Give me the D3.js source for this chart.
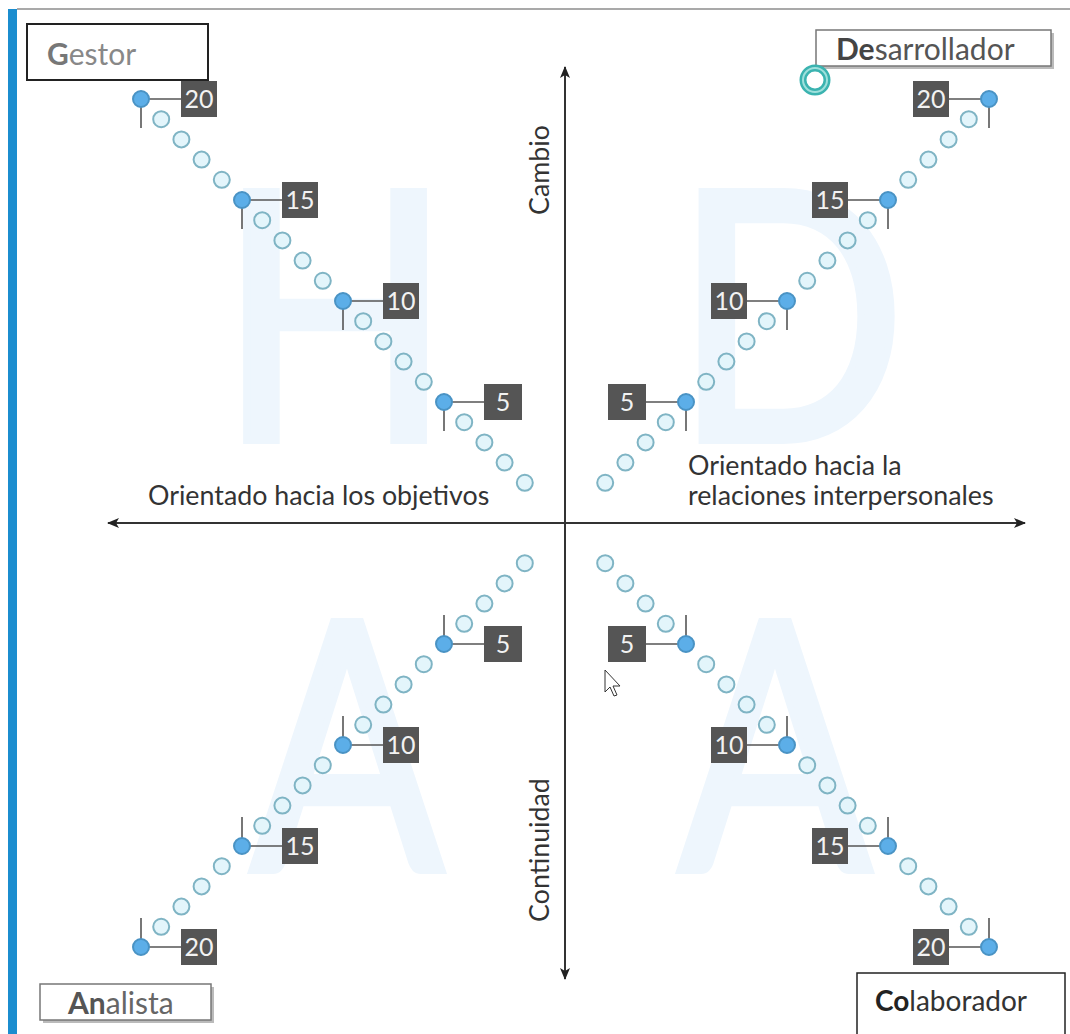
<!DOCTYPE html>
<html>
<head>
<meta charset="utf-8">
<script src="https://cdn.jsdelivr.net/npm/d3@7"></script>
<style>
  body { margin: 0; background: #fff; }
  svg { display: block; font-family: "Lato", "Open Sans", sans-serif; }
</style>
</head>
<body>
<div id="chart"></div>
<script>
// --- data ---
const quadrants = ["Gestor", "Desarrollador", "Analista", "Colaborador"];
const quadrantBold = ["G", "De", "An", "Co"];
const quadrantLetters = ["H", "D", "A", "A"];
const dotValues = [1, 2, 3, 4, 5, 6, 7, 8, 9, 10, 11, 12, 13, 14, 15, 16, 17, 18, 19, 20];
const tickValues = [5, 10, 15, 20];
const axisLabels = ["Cambio", "Continuidad", "Orientado hacia los objetivos"];
const rightAxisLines = ["Orientado hacia la", "relaciones interpersonales"];

const width = 1070, height = 1034;
const cx = 565, cy = 523;

// direction of each quadrant (x sign, y sign)
const signs = [[-1, -1], [1, -1], [-1, 1], [1, 1]];

const svg = d3.select("#chart").append("svg")
  .attr("width", width)
  .attr("height", height);

// distance from centre along each axis for a value
const pos = d3.scaleLinear().domain([0, 20]).range([20, 424]);

// frame: blue left bar, thin grey top line
svg.append("line").attr("x1", 17).attr("x2", width).attr("y1", 9).attr("y2", 9)
  .attr("stroke", "#a9a9a9").attr("stroke-width", 2);
svg.append("rect").attr("x", 8).attr("y", 9).attr("width", 9).attr("height", height)
  .attr("fill", "#1b8dcf");

// big faint letters behind each diagonal (squeezed a bit horizontally)
const letterPos = [[335, 440, 0.88], [790, 440, 0.88], [347, 870, 0.82], [775, 870, 0.82]];
svg.selectAll("text.bg")
  .data(quadrantLetters)
  .enter().append("text")
  .attr("class", "bg")
  .attr("transform", (d, i) => `translate(${letterPos[i][0]},${letterPos[i][1]}) scale(${letterPos[i][2]},1)`)
  .attr("text-anchor", "middle")
  .attr("font-size", 346)
  .attr("fill", "#eef6fd")
  .attr("stroke", "#eef6fd")
  .attr("stroke-width", 8)
  .text(d => d);

// arrows
const defs = svg.append("defs");
defs.append("marker")
  .attr("id", "arrow")
  .attr("viewBox", "0 0 12 10")
  .attr("refX", 11).attr("refY", 5)
  .attr("markerWidth", 13).attr("markerHeight", 10)
  .attr("markerUnits", "userSpaceOnUse")
  .attr("orient", "auto-start-reverse")
  .append("path")
  .attr("d", "M0,0 L12,5 L0,10 L3,5 Z")
  .attr("fill", "#222");

svg.append("line")
  .attr("x1", 108).attr("x2", 1025).attr("y1", cy).attr("y2", cy)
  .attr("stroke", "#333").attr("stroke-width", 2)
  .attr("marker-start", "url(#arrow)").attr("marker-end", "url(#arrow)");
svg.append("line")
  .attr("x1", cx).attr("x2", cx).attr("y1", 67).attr("y2", 979)
  .attr("stroke", "#333").attr("stroke-width", 2)
  .attr("marker-start", "url(#arrow)").attr("marker-end", "url(#arrow)");

// axis labels
const labelSize = 26.8;
svg.append("text")
  .attr("transform", `translate(${cx - 16},170) rotate(-90)`)
  .attr("text-anchor", "middle")
  .attr("font-size", labelSize).attr("fill", "#333")
  .text(axisLabels[0]);
svg.append("text")
  .attr("transform", `translate(${cx - 16},850) rotate(-90)`)
  .attr("text-anchor", "middle")
  .attr("font-size", labelSize).attr("fill", "#333")
  .text(axisLabels[1]);
svg.append("text")
  .attr("x", 148).attr("y", 505)
  .attr("font-size", labelSize).attr("fill", "#333")
  .text(axisLabels[2]);
svg.selectAll("text.rl")
  .data(rightAxisLines)
  .enter().append("text")
  .attr("class", "rl")
  .attr("x", 688).attr("y", (d, i) => 475 + i * 30)
  .attr("font-size", labelSize).attr("fill", "#333")
  .text(d => d);

// diagonals
quadrants.forEach((name, qi) => {
  const [sx, sy] = signs[qi];
  const g = svg.append("g").attr("class", "quadrant");
  const px = v => cx + sx * pos(v);
  const py = v => cy + sy * pos(v);

  // tick stubs and connectors for labelled points
  const ticks = g.selectAll("g.tick")
    .data(tickValues)
    .enter().append("g")
    .attr("class", "tick");

  ticks.append("line")
    .attr("x1", d => px(d)).attr("x2", d => px(d))
    .attr("y1", d => py(d)).attr("y2", d => py(d) - sy * 29)
    .attr("stroke", "#555").attr("stroke-width", 1.6);
  ticks.append("line")
    .attr("x1", d => px(d)).attr("x2", d => px(d) - sx * 42)
    .attr("y1", d => py(d)).attr("y2", d => py(d))
    .attr("stroke", "#555").attr("stroke-width", 1.6);

  const bw = d => d < 10 ? 38 : 36;
  ticks.append("rect")
    .attr("x", d => sx < 0 ? px(d) + 40 : px(d) - 40 - bw(d))
    .attr("y", d => py(d) - 18)
    .attr("width", bw).attr("height", 36)
    .attr("fill", "#555");
  ticks.append("text")
    .attr("x", d => sx < 0 ? px(d) + 40 + bw(d) / 2 : px(d) - 40 - bw(d) / 2)
    .attr("y", d => py(d) + 9)
    .attr("text-anchor", "middle")
    .attr("font-size", 25)
    .attr("fill", "#f2f2f2")
    .text(d => d);

  // dots
  g.selectAll("circle")
    .data(dotValues)
    .enter().append("circle")
    .attr("cx", d => px(d))
    .attr("cy", d => py(d))
    .attr("r", 8)
    .attr("fill", d => tickValues.includes(d) ? "#5caee8" : "#e3f5fb")
    .attr("stroke", d => tickValues.includes(d) ? "#4a93c4" : "#7fb4c4")
    .attr("stroke-width", 2);
});

// category boxes
const boxes = [
  { x: 27, y: 24, w: 181, h: 56, stroke: "#222", sw: 2, shadow: false, tx: 47, ty: 65, fs: 30, fill: "#888", bfill: "#777" },
  { x: 816, y: 30, w: 235, h: 36, stroke: "#777", sw: 1.5, shadow: true, tx: 836, ty: 60, fs: 30, fill: "#555", bfill: "#444" },
  { x: 40, y: 984, w: 171, h: 36, stroke: "#777", sw: 1.5, shadow: true, tx: 68, ty: 1014, fs: 30, fill: "#666", bfill: "#555" },
  { x: 857, y: 973, w: 208, h: 70, stroke: "#222", sw: 1.5, shadow: false, tx: 875, ty: 1011, fs: 28, fill: "#333", bfill: "#222" }
];
boxes.forEach((b, i) => {
  if (b.shadow) {
    svg.append("rect").attr("x", b.x + 3).attr("y", b.y + 3)
      .attr("width", b.w).attr("height", b.h).attr("fill", "#bbb");
  }
  svg.append("rect").attr("x", b.x).attr("y", b.y)
    .attr("width", b.w).attr("height", b.h)
    .attr("fill", "#fff").attr("stroke", b.stroke).attr("stroke-width", b.sw);
  const t = svg.append("text").attr("x", b.tx).attr("y", b.ty)
    .attr("font-size", b.fs).attr("fill", b.fill);
  t.append("tspan").attr("font-weight", "bold").attr("fill", b.bfill).text(quadrantBold[i]);
  t.append("tspan").text(quadrants[i].slice(quadrantBold[i].length));
});

// teal ring near the Desarrollador box
svg.append("circle").attr("cx", 815).attr("cy", 80).attr("r", 12)
  .attr("fill", "none").attr("stroke", "#3bb3b0").attr("stroke-width", 7);
svg.append("circle").attr("cx", 815).attr("cy", 80).attr("r", 12)
  .attr("fill", "none").attr("stroke", "#9fe0dc").attr("stroke-width", 2);

// mouse pointer
svg.append("path")
  .attr("d", "M605,670 L605,692 L610,687 L614,696 L617,695 L613,686 L620,686 Z")
  .attr("fill", "#fff").attr("stroke", "#333").attr("stroke-width", 1);
</script>
</body>
</html>
